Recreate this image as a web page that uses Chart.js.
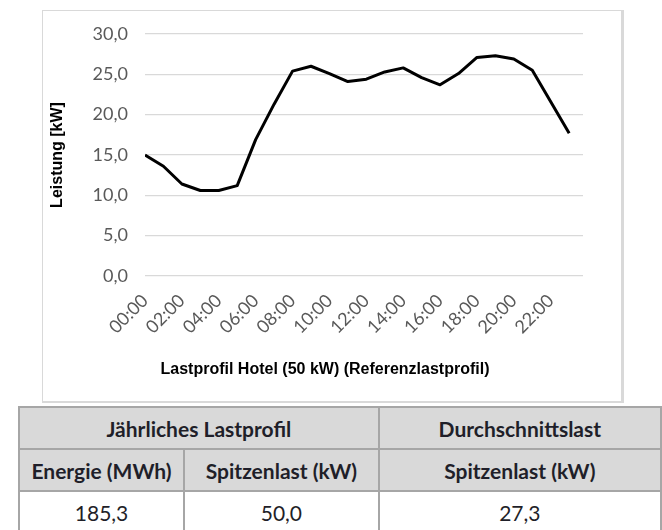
<!DOCTYPE html>
<html><head><meta charset="utf-8">
<script src="https://cdn.jsdelivr.net/npm/chart.js@4"></script>
<style>
html,body{margin:0;padding:0;background:#fff;}
body{width:662px;height:530px;position:relative;overflow:hidden;}
#box{position:absolute;left:42px;top:10px;width:582px;height:393px;box-sizing:border-box;border-style:solid;border-color:#d9d9d9;border-width:1px 3px 2px 1px;}
#cv{position:absolute;left:0;top:0;}
#ttl{position:absolute;left:0;width:650px;top:361px;text-align:center;font:bold 16px/16px "Liberation Sans",Arial,sans-serif;color:#000;white-space:nowrap;}
#tbl{position:absolute;left:18px;top:406px;border-collapse:collapse;table-layout:fixed;font-family:Lato,"Open Sans",sans-serif;font-size:21px;color:#1f1f29;}
#tbl td{border:2px solid #a6a6a6;text-align:center;vertical-align:middle;padding:0;height:40px;white-space:nowrap;}
#tbl tr.h td{background:#d9d9d9;font-weight:bold;}
#tbl tr.v td{background:#fff;font-weight:normal;}
</style>
</head><body>
<div id="box"></div>
<canvas id="cv" width="662" height="403"></canvas>
<div id="ttl">Lastprofil Hotel (50 kW) (Referenzlastprofil)</div>
<table id="tbl">
<colgroup><col style="width:167px"><col style="width:198px"><col style="width:292px"></colgroup>
<tbody id="tb"></tbody>
</table>
<script>
// ---- data ----
const hours = [0,1,2,3,4,5,6,7,8,9,10,11,12,13,14,15,16,17,18,19,20,21,22,23];
const loadKW = [15.0,13.6,11.4,10.6,10.6,11.2,16.9,21.3,25.4,26.0,25.1,24.1,24.4,25.3,25.8,24.6,23.7,25.1,27.1,27.3,26.9,25.5,21.6,17.7];
const tickLabels = ["00:00","02:00","04:00","06:00","08:00","10:00","12:00","14:00","16:00","18:00","20:00","22:00"];
const tableHead1 = ["Jährliches Lastprofil","Durchschnittslast"];
const tableHead2 = ["Energie (MWh)","Spitzenlast (kW)","Spitzenlast (kW)"];
const tableValues = ["185,3","50,0","27,3"];

// ---- table ----
const tb = document.getElementById('tb');
function addRow(cells, cls, spans){
  const tr = document.createElement('tr'); tr.className = cls;
  cells.forEach((t,i)=>{const td=document.createElement('td'); td.textContent=t; if(spans&&spans[i]>1) td.colSpan=spans[i]; tr.appendChild(td);});
  tb.appendChild(tr);
}
addRow(tableHead1,'h',[2,1]);
addRow(tableHead2,'h');
addRow(tableValues,'v');

// ---- chart ----
const tickFont = {family:'Lato, "Open Sans", sans-serif', size:18};
new Chart(document.getElementById('cv'), {
  type:'line',
  data:{datasets:[{
    data: hours.map((h,i)=>({x:h,y:loadKW[i]})),
    borderColor:'#000', borderWidth:3, pointRadius:0, tension:0,
    borderJoinStyle:'round', borderCapStyle:'butt', fill:false
  }]},
  options:{
    responsive:false, animation:false,
    layout:{padding:{left:0,top:34,right:79,bottom:0}},
    plugins:{legend:{display:false},tooltip:{enabled:false},title:{display:false}},
    scales:{
      x:{
        type:'linear', min:0, max:23.75,
        afterBuildTicks:(s)=>{ s.ticks = tickLabels.map((_,i)=>({value:i*2})); },
        afterFit:(s)=>{ s.height = 127; },
        grid:{display:false, drawTicks:false},
        border:{display:false},
        ticks:{autoSkip:false, maxRotation:45, minRotation:45, padding:14, color:'#595959', font:tickFont,
          callback:(v)=>tickLabels[Math.round(v/2)]}
      },
      y:{
        min:0, max:30,
        afterFit:(s)=>{ s.width = 145; },
        grid:{color:'#d9d9d9', lineWidth:1.3, drawTicks:false},
        border:{display:false},
        ticks:{stepSize:5, padding:17, color:'#595959', font:tickFont,
          callback:(v)=>v.toFixed(1).replace('.',',')},
        title:{display:true, text:'Leistung [kW]', color:'#000',
          font:{family:'"Liberation Sans", Arial, sans-serif', size:16, weight:'bold'},
          padding:{top:48,bottom:0}}
      }
    }
  }
});
</script>
</body></html>
